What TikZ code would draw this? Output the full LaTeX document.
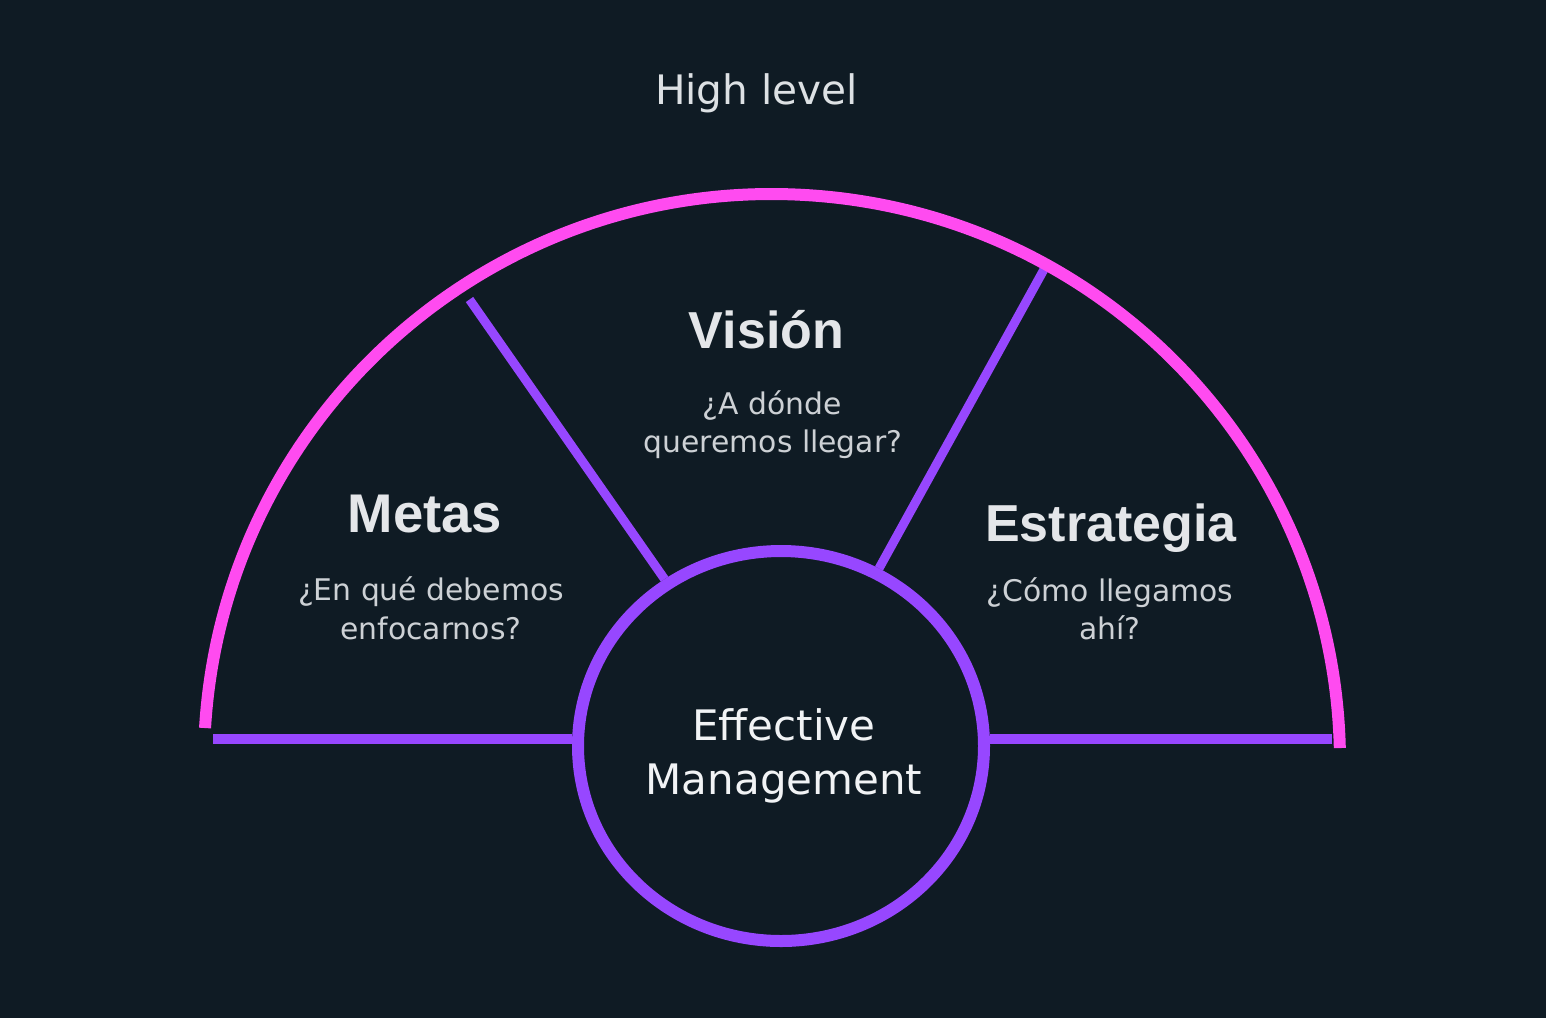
\documentclass[tikz,border=0pt]{standalone}
\usepackage{fontspec}
\setmainfont{DejaVu Sans}
\newfontfamily\headfont{Liberation Sans}
\usetikzlibrary{shapes.geometric}
\definecolor{bg}{HTML}{0F1B24}
\definecolor{pinkarc}{HTML}{FF4BF0}
\definecolor{purp}{HTML}{9747FF}
\definecolor{headc}{HTML}{E4E6E9}
\definecolor{subc}{HTML}{CDD1D5}
\definecolor{hlc}{HTML}{DDE1E4}
\definecolor{effc}{HTML}{F1F3F5}
\tikzset{
  ring/.style={draw=purp, line width=12pt, ellipse, minimum width=406pt, minimum height=390pt, inner sep=0pt},
  spoke/.style={draw=purp, line width=9pt},
  floorline/.style={draw=purp, line width=10pt},
  arcline/.style={draw=pinkarc, line width=12pt},
  hltext/.style={font=\fontsize{40.6}{48}\selectfont, text=hlc, anchor=base, inner sep=0pt},
  titletext/.style={font=\headfont\bfseries\fontsize{52}{60}\selectfont, text=headc, anchor=base, inner sep=0pt},
  subtext/.style={font=\fontsize{29.8}{36}\selectfont, text=subc, anchor=base, inner sep=0pt},
  efftext/.style={font=\fontsize{42}{50}\selectfont, text=effc, anchor=base, inner sep=0pt}
}
\begin{document}
\begin{tikzpicture}[x=1pt,y=-1pt]
\fill[bg] (0,0) rectangle (1546,1018);
\useasboundingbox (0,0) rectangle (1546,1018);

% central ring
\node[ring] (core) at (781,746) {};

% floor lines
\coordinate (hL) at (213,738.5);
\coordinate (hR) at (1332,738.5);
\draw[floorline] (hL) -- (hL -| core.west);
\draw[floorline] (hR) -- (hR -| core.east);

% spokes
\coordinate (sL) at (469.5,299.5);
\coordinate (sR) at (1044.5,268.5);
\draw[spoke] (sL) -- (core);
\draw[spoke] (sR) -- (core);

% outer pink arc
\coordinate (arcC) at (772,762);
\draw[arcline] (arcC) ++(-176.57:568) arc[start angle=-176.57, end angle=-1.41, radius=568];

% texts
\node[hltext] (high) at (756.5,104) {High level};
\node[titletext] (visT) at (766.5,348) {Visión};
\node[subtext] (visA) at (772,414) {¿A dónde};
\node[subtext] (visB) at (773,452) {queremos llegar?};
\node[titletext, font=\headfont\bfseries\fontsize{54.5}{60}\selectfont] (metT) at (425,532) {Metas};
\node[subtext] (metA) at (431,600) {¿En qué debemos};
\node[subtext] (metB) at (431,639) {enfocarnos?};
\node[titletext] (estT) at (1111,541) {Estrategia};
\node[subtext] (estA) at (1110,601) {¿Cómo llegamos};
\node[subtext] (estB) at (1110,639) {ahí?};
\node[efftext] (effA) at (784,740) {Effective};
\node[efftext] (effB) at (784,794) {Management};
\end{tikzpicture}
\end{document}
